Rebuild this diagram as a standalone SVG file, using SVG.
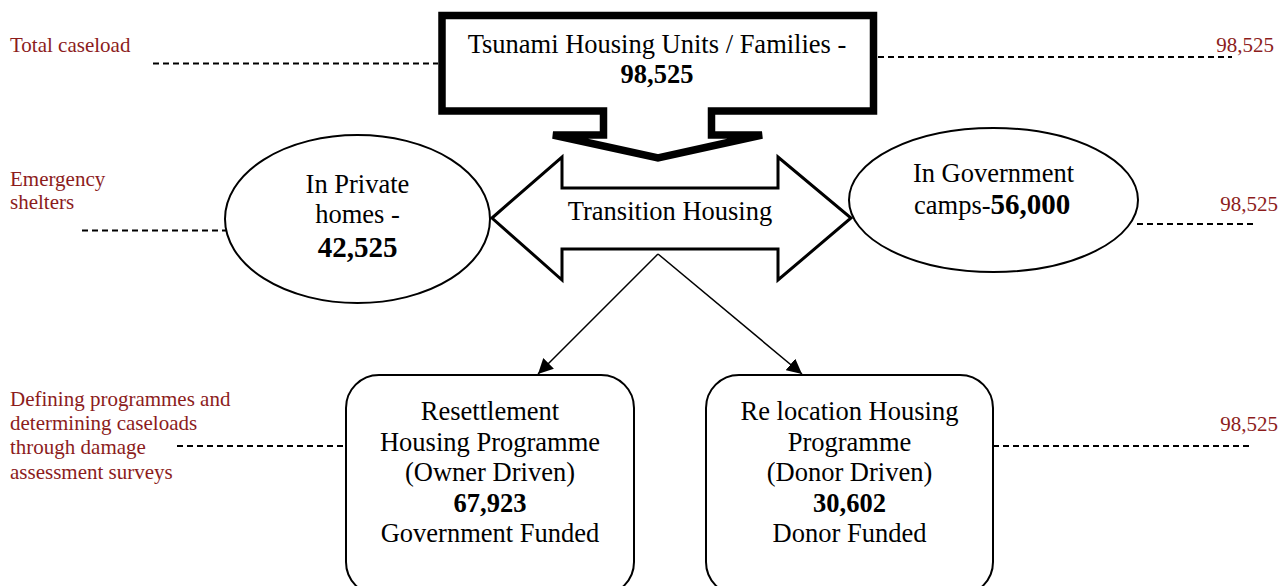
<svg xmlns="http://www.w3.org/2000/svg" width="1282" height="586" viewBox="0 0 1282 586">
<style>
text{font-family:"Liberation Serif","Times New Roman",serif;fill:#000}
.t{font-size:26.5px;text-anchor:middle}
.b{font-weight:bold}
.lbl{font-size:21px;fill:#8c1c1c}
.num{font-size:21px;fill:#8c1c1c;text-anchor:end}
.dash{stroke:#000;stroke-width:1.8;stroke-dasharray:6 4;fill:none}
.conn{stroke:#000;stroke-width:1.5;fill:none}
</style>
<defs>
<marker id="ah" viewBox="0 0 15 15" refX="15" refY="7.5" markerWidth="15" markerHeight="15" markerUnits="userSpaceOnUse" orient="auto">
<path d="M0,0 L15,7.5 L0,15 Z" fill="#000"/>
</marker>
</defs>
<rect width="1282" height="586" fill="#fff"/>

<g id="labels">
<text class="lbl" x="10" y="52">Total caseload</text>
<text class="lbl" x="10" y="186">Emergency</text>
<text class="lbl" x="10" y="209">shelters</text>
<text class="lbl" x="10" y="406">Defining programmes and</text>
<text class="lbl" x="10" y="430">determining caseloads</text>
<text class="lbl" x="10" y="454">through damage</text>
<text class="lbl" x="10" y="479">assessment surveys</text>
<text class="num" x="1274" y="52">98,525</text>
<text class="num" x="1278" y="211">98,525</text>
<text class="num" x="1278" y="431">98,525</text>
</g>

<g id="guides">
<line class="dash" x1="153" y1="63.5" x2="438" y2="63.5"/>
<line class="dash" x1="878" y1="57" x2="1232" y2="57"/>
<line class="dash" x1="82" y1="230.5" x2="226" y2="230.5"/>
<line class="dash" x1="1137" y1="224" x2="1257" y2="224"/>
<line class="dash" x1="177" y1="446" x2="346" y2="446"/>
<line class="dash" x1="993" y1="446" x2="1253" y2="446"/>
</g>

<g id="connectors">
<line class="conn" x1="658" y1="254" x2="538" y2="374" marker-end="url(#ah)"/>
<line class="conn" x1="658" y1="254" x2="802" y2="374" marker-end="url(#ah)"/>
</g>

<g id="total">
<path d="M442,15.5 H873.5 V111 H711.5 V135 H762 L658,158 L553,135 H603.5 V111 H442 Z" fill="#fff" stroke="#000" stroke-width="7.5" stroke-linejoin="miter"/>
<text class="t" x="657" y="53">Tsunami Housing Units / Families -</text>
<text class="t b" x="657" y="83">98,525</text>
</g>

<g id="transition">
<path d="M492,218 L562,157 V188 H778 V157 L851,218 L778,280 V249 H562 V280 Z" fill="#fff" stroke="#000" stroke-width="3" stroke-linejoin="miter"/>
<text class="t" x="670" y="220">Transition Housing</text>
</g>

<g id="private">
<ellipse cx="357.5" cy="219" rx="132.5" ry="84" fill="#fff" stroke="#000" stroke-width="2"/>
<text class="t" x="357.5" y="193">In Private</text>
<text class="t" x="357.5" y="223">homes -</text>
<text class="t b" x="357.5" y="257" style="font-size:29px">42,525</text>
</g>

<g id="camps">
<ellipse cx="993.5" cy="200" rx="144.5" ry="72" fill="#fff" stroke="#000" stroke-width="2"/>
<text class="t" x="993.5" y="182">In Government</text>
<text x="914" y="214" style="font-size:26.5px">camps-<tspan class="b" style="font-size:29px">56,000</tspan></text>
</g>

<g id="resettlement">
<rect x="346" y="375" width="288" height="220" rx="33" ry="33" fill="#fff" stroke="#000" stroke-width="2"/>
<text class="t" x="490" y="420">Resettlement</text>
<text class="t" x="490" y="451">Housing Programme</text>
<text class="t" x="490" y="481">(Owner Driven)</text>
<text class="t b" x="490" y="512">67,923</text>
<text class="t" x="490" y="542">Government Funded</text>
</g>

<g id="relocation">
<rect x="706" y="375" width="287" height="220" rx="33" ry="33" fill="#fff" stroke="#000" stroke-width="2"/>
<text class="t" x="849.5" y="420">Re location Housing</text>
<text class="t" x="849.5" y="451">Programme</text>
<text class="t" x="849.5" y="481">(Donor Driven)</text>
<text class="t b" x="849.5" y="512">30,602</text>
<text class="t" x="849.5" y="542">Donor Funded</text>
</g>
</svg>
